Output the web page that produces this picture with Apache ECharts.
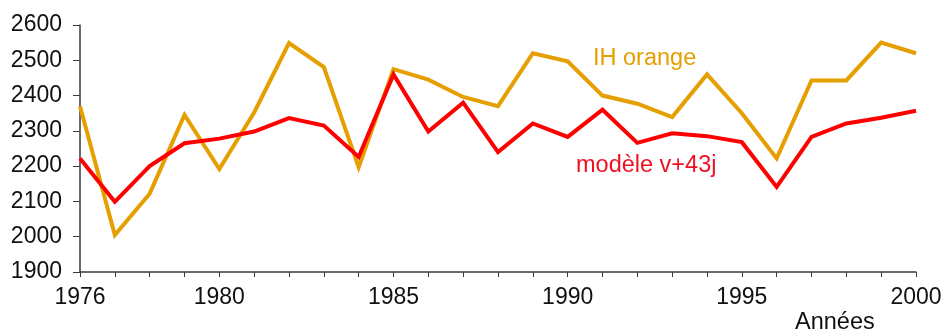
<!DOCTYPE html>
<html><head><meta charset="utf-8">
<script src="https://cdn.jsdelivr.net/npm/echarts@6/dist/echarts.min.js"></script>
<style>html,body{margin:0;padding:0;background:#fff}#c{width:950px;height:333px}</style>
</head><body><div id="c"></div>
<script>
var years = [1976,1977,1978,1979,1980,1981,1982,1983,1984,1985,1986,1987,1988,1989,1990,1991,1992,1993,1994,1995,1996,1997,1998,1999,2000];
var ihOrange = [2370,2005,2122,2345,2192,2352,2549,2481,2197,2475,2445,2396,2370,2520,2497,2400,2377,2339,2460,2350,2222,2443,2443,2550,2520];
var modele = [2222,2099,2200,2265,2278,2298,2336,2315,2226,2460,2298,2380,2240,2321,2283,2360,2266,2293,2285,2268,2141,2283,2321,2337,2357];
var xLabels = [1976,1980,1985,1990,1995,2000];
var yTicks = [1900,2000,2100,2200,2300,2400,2500,2600];
var seriesNames = ['IH orange','modèle v+43j'];
var axisTitle = 'Années';

var orange = '#E69F00', red = '#FF0000', axisCol = '#3a3a3a';
var font = '"Liberation Sans", Arial, Helvetica, sans-serif';
function pairs(v){ return years.map(function(y,i){ return [y, v[i]]; }); }

var chart = echarts.init(document.getElementById('c'), null, {renderer:'canvas'});
chart.setOption({
  animation:false,
  grid:{left:80, right:34, top:25, bottom:61, containLabel:false},
  xAxis:{
    type:'value', min:1976, max:2000, interval:1,
    axisLine:{show:true, onZero:false, lineStyle:{color:axisCol, width:1.5}},
    axisTick:{show:true, length:5, lineStyle:{color:axisCol, width:1}},
    splitLine:{show:false},
    axisLabel:{margin:14, fontSize:23, color:'#111', fontFamily:font,
      formatter:function(v){ return xLabels.indexOf(v) >= 0 ? String(v) : ''; }}
  },
  yAxis:{
    type:'value', min:yTicks[0], max:yTicks[yTicks.length-1], interval:100,
    axisLine:{show:true, lineStyle:{color:axisCol, width:1.5}},
    axisTick:{show:true, length:7, lineStyle:{color:axisCol, width:1}},
    splitLine:{show:false},
    axisLabel:{margin:18, fontSize:23, color:'#111', fontFamily:font,
      formatter:function(v){ return String(v); }}
  },
  series:[
    {name:seriesNames[0], type:'line', data:pairs(ihOrange), symbol:'none',
     lineStyle:{color:orange, width:4, join:'miter'}, z:2},
    {name:seriesNames[1], type:'line', data:pairs(modele), symbol:'none',
     lineStyle:{color:red, width:4, join:'miter'}, z:3}
  ],
  graphic:[
    {type:'text', left:593, top:47, style:{text:seriesNames[0], fill:orange, font:'23.5px '+font}},
    {type:'text', left:576, top:154, style:{text:seriesNames[1], fill:'#EE1122', font:'23.5px '+font}},
    {type:'text', left:795, top:311, style:{text:axisTitle, fill:'#111', font:'23.5px '+font}}
  ]
});
</script></body></html>
